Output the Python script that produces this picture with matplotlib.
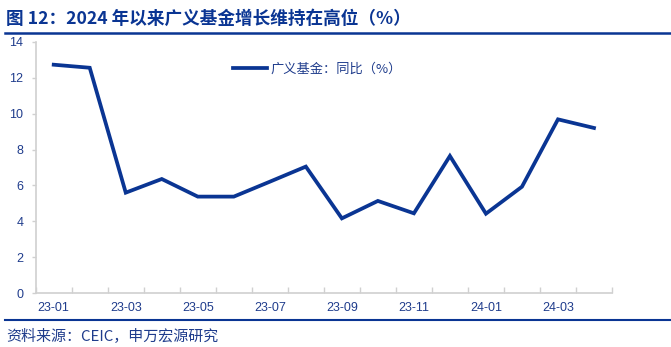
import matplotlib
matplotlib.use("Agg")
import matplotlib.pyplot as plt
from matplotlib.lines import Line2D
import numpy as np

plt.rcParams['font.family'] = ['Noto Sans CJK SC', 'DejaVu Sans']

months = ['23-01', '23-02', '23-03', '23-04', '23-05', '23-06', '23-07', '23-08',
          '23-09', '23-10', '23-11', '23-12', '24-01', '24-02', '24-03', '24-04']
values = [12.72, 12.55, 5.60, 6.36, 5.38, 5.38, 6.21, 7.05,
          4.17, 5.14, 4.45, 7.64, 4.43, 5.93, 9.68, 9.20]
series_name = '广义基金：同比（%）'
title = '图 12：2024 年以来广义基金增长维持在高位（%）'
source = '资料来源：CEIC，申万宏源研究'

blue = '#0a3593'
text_blue = '#1f3c8c'
gray = '#d0d0d0'

W, H = 671, 347
fig = plt.figure(figsize=(W / 100, H / 100), dpi=100)
ax = fig.add_axes([35.7 / W, 1 - 293.3 / H, (612 - 35.7) / W, (293.3 - 41.7) / H])

x = np.arange(len(months))
ax.plot(x, values, color=blue, lw=2.7, solid_joinstyle='miter', label=series_name)

ax.set_xlim(-0.5, len(months) - 0.5)
ax.set_ylim(0, 14)
ax.set_yticks(np.arange(0, 15, 2))
ax.set_xticks(x[::2])
ax.set_xticklabels(months[::2])
ax.set_xticks(np.arange(-0.5, len(months), 1), minor=True)

tick_font = dict(family=['Liberation Sans', 'DejaVu Sans'], size=9)
for lab in ax.get_xticklabels() + ax.get_yticklabels():
    lab.set_fontfamily(tick_font['family'])
    lab.set_fontsize(tick_font['size'])
    lab.set_color(text_blue)

ax.tick_params(axis='x', which='major', length=0, pad=6)
ax.tick_params(axis='x', which='minor', direction='in', length=4, color=gray, width=1)
ax.tick_params(axis='y', direction='out', length=3, color=gray, width=1, pad=6)

for s in ['top', 'right']:
    ax.spines[s].set_visible(False)
for s in ['left', 'bottom']:
    ax.spines[s].set_color(gray)
    ax.spines[s].set_linewidth(1.2)

leg = ax.legend(loc='center left', bbox_to_anchor=((233 - 35.7) / (612 - 35.7), 1 - (69 - 41.7) / (293.3 - 41.7)),
                frameon=False, fontsize=9.5, handlelength=2.6, handletextpad=0.25,
                borderaxespad=0, borderpad=0)
for t in leg.get_texts():
    t.set_color(text_blue)

# title
fig.text(6 / W, 1 - 19 / H, title, fontsize=12.7, fontweight='bold', color=blue,
         ha='left', va='center')
fig.add_artist(Line2D([5 / W, 1], [1 - 32.5 / H] * 2, color=blue, lw=1.8))

# footer
fig.add_artist(Line2D([5 / W, 1], [1 - 319.5 / H] * 2, color=blue, lw=1.5))
fig.text(6 / W, 1 - 337 / H, source, fontsize=10.8, color=text_blue, ha='left', va='center')

fig.savefig('out.png', dpi=100)
